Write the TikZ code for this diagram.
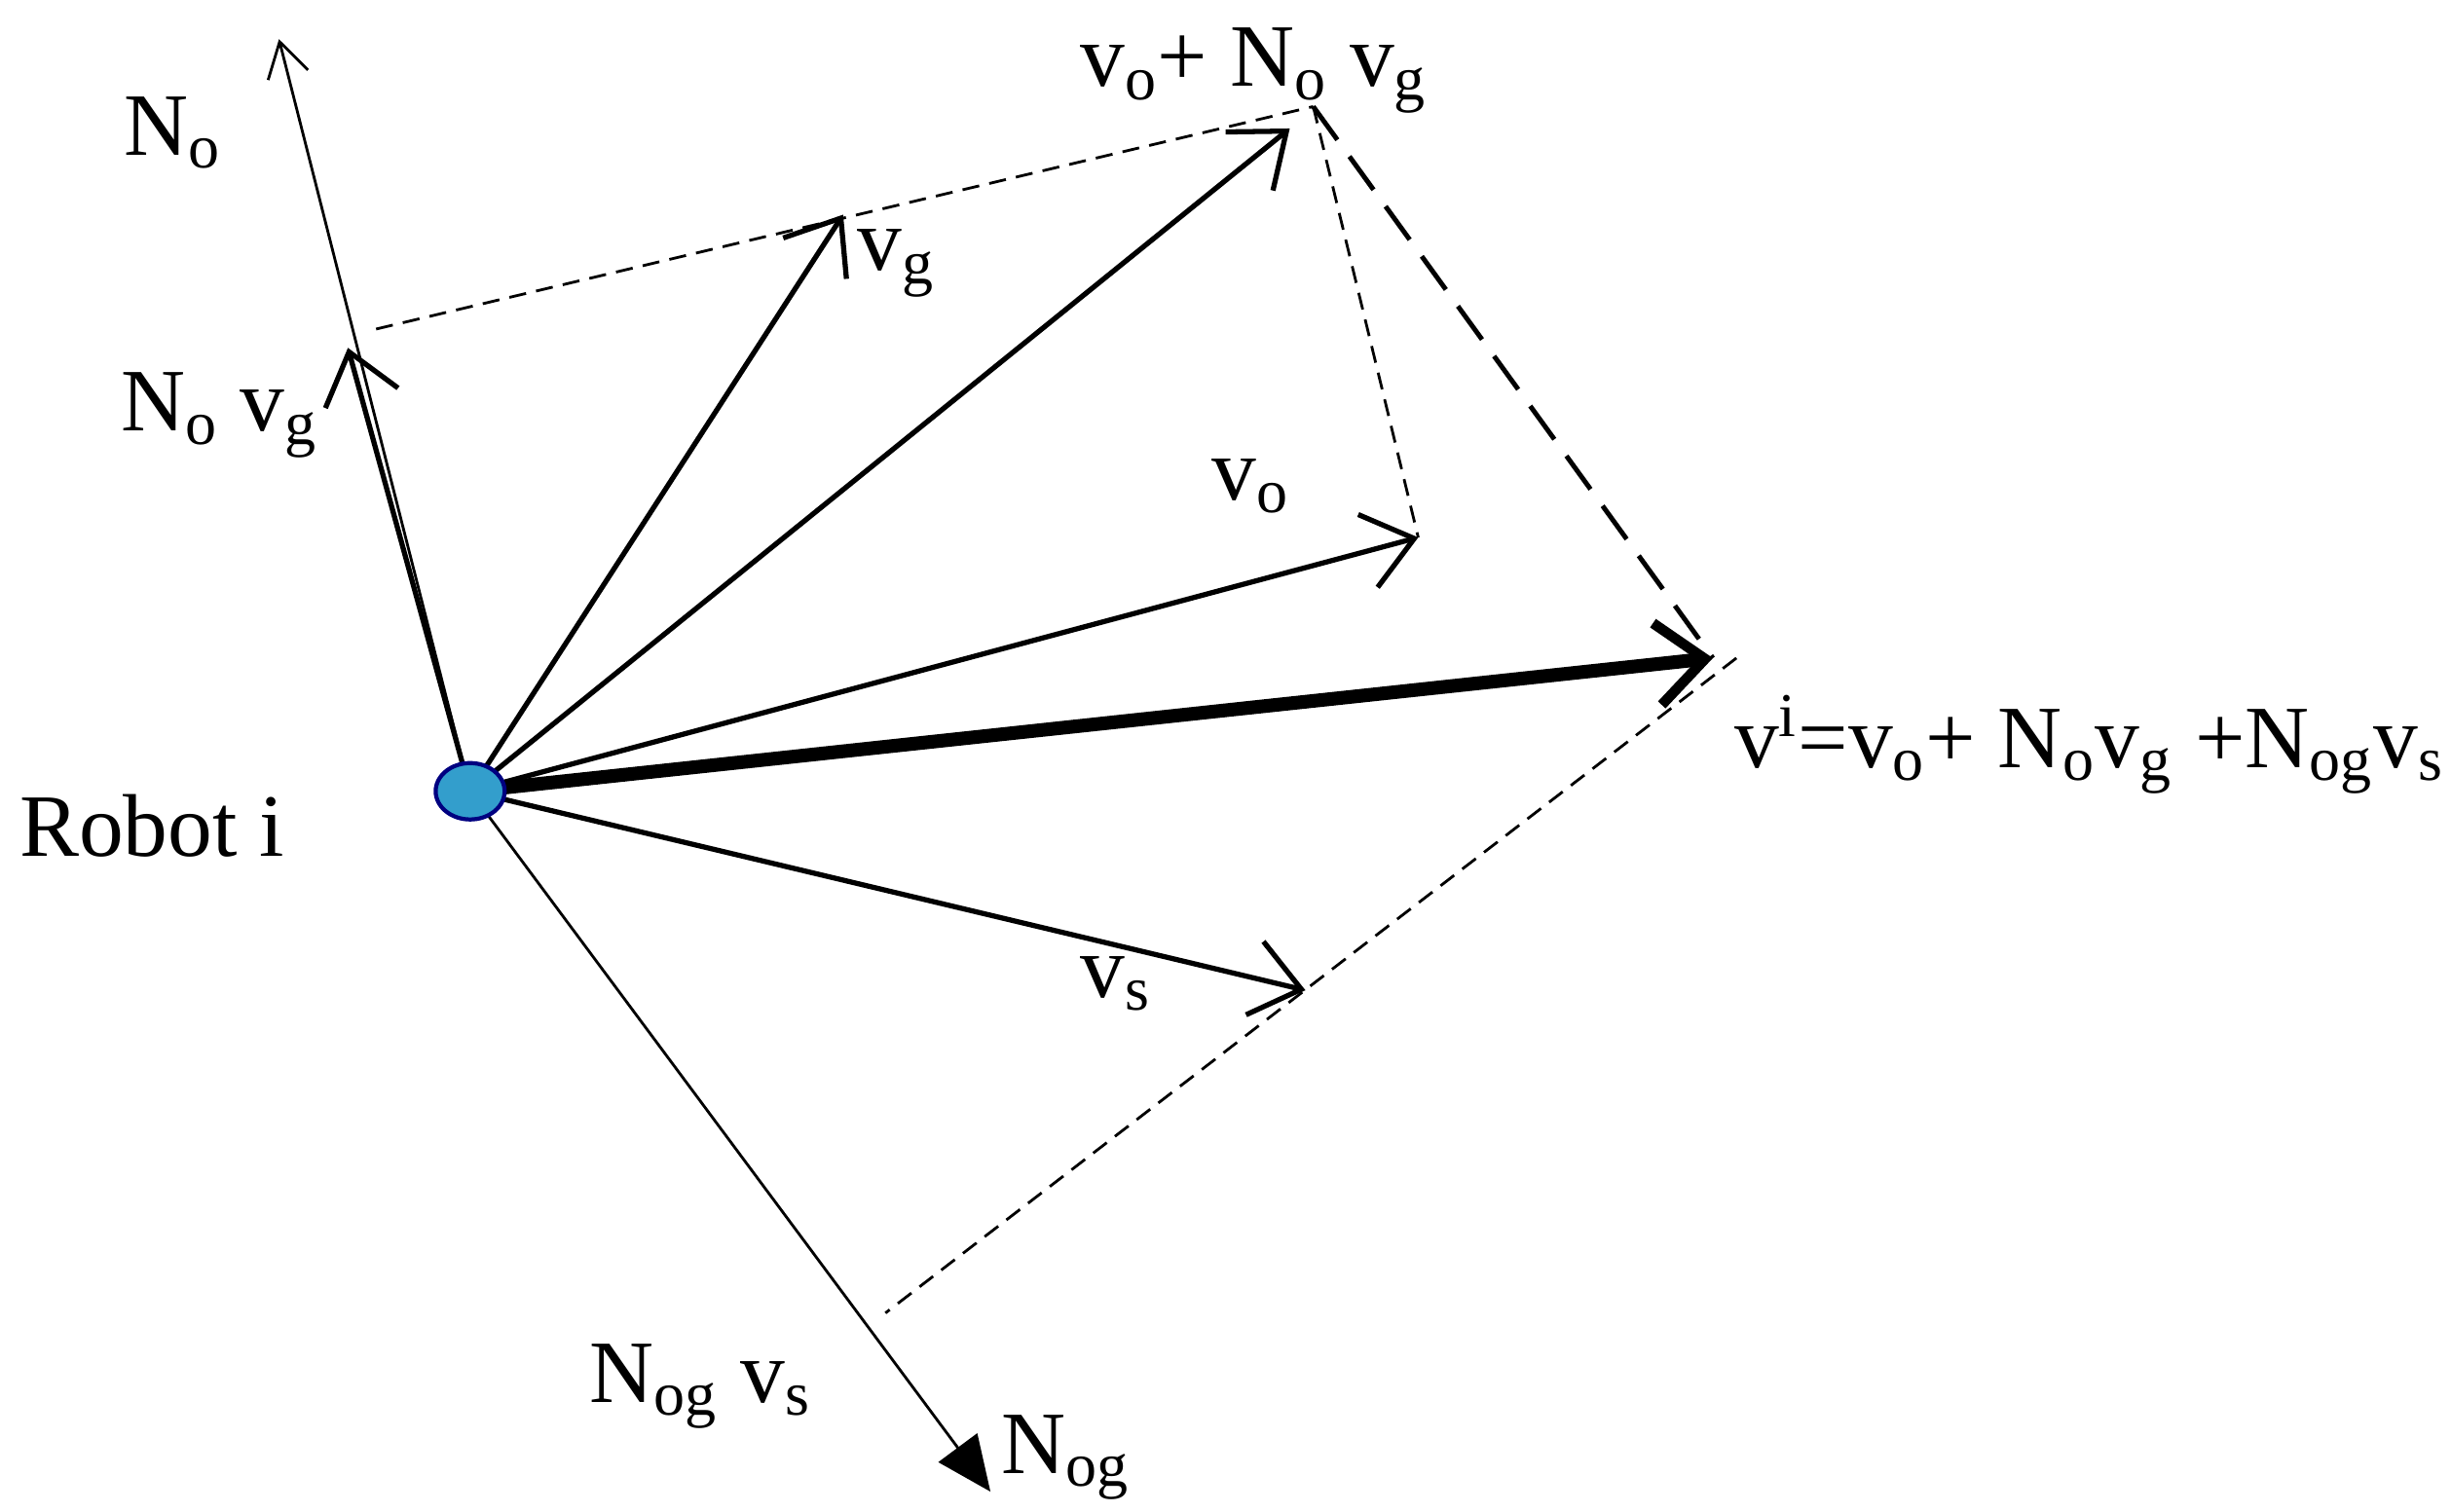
\documentclass[tikz,border=0pt]{standalone}
\usepackage{fontspec}
\setmainfont{Liberation Serif}
\usetikzlibrary{arrows.meta}
\tikzset{
 vec/.style={line width=1.5pt,-{Straight Barb[length=14pt,width=22pt,line width=1.5pt]}},
 axis/.style={line width=0.8pt},
 guide/.style={dashed,line width=0.8pt,dash pattern=on 5pt off 3pt},
 lbl/.style={font=\fontsize{26}{30}\selectfont,inner sep=0pt}
}
\begin{document}
\begin{tikzpicture}[x=0.01609cm,y=-0.01609cm]
\useasboundingbox (0,0) rectangle (1564,965);
 \coordinate (o) at (300,505);
 \coordinate (No) at (178,25);
 \coordinate (Novg) at (222,222);
 \coordinate (vg) at (538,137);
 \coordinate (sum) at (823,82);
 \coordinate (sumc) at (838,68);
 \coordinate (vo) at (905,343);
 \coordinate (vi) at (1093,420);
 \coordinate (vic) at (1108,420);
 \coordinate (vs) at (833,632);
 \coordinate (Nog) at (632,952);
 \coordinate (d1) at (240,210);
 \coordinate (d2) at (565,838);

\draw[guide] (d1)--(sumc);
\draw[guide] (sumc)--(vo);
\draw[guide,line width=1.4pt,dash pattern=on 12pt off 6pt] (sumc)--(vi);
\draw[guide] (vic)--(d2);

\draw[axis,-{Straight Barb[length=10pt,width=12pt,line width=0.8pt]}] (o)--(No);
\draw[axis,-{Triangle[length=16pt,width=14pt]}] (o)--(Nog);
\draw[vec] (o)--(Novg);
\draw[vec] (o)--(vg);
\draw[vec] (o)--(sum);
\draw[vec] (o)--(vo);
\draw[vec] (o)--(vs);
\draw[line width=4pt,-{Straight Barb[length=14pt,width=24pt,line width=3pt]}] (o)--(vi);

\fill[blue!30!cyan!60!gray,draw=blue!50!black,line width=1.2pt] (o) ellipse [x radius=22,y radius=18];

\node[lbl] (lNo) at (110,85) {N\textsubscript{o}};
\node[lbl] (lNovg) at (140,265) {N\textsubscript{o} v\textsubscript{g}};
\node[lbl] (lvg) at (572,168) {v\textsubscript{g}};
\node[lbl] (lsum) at (800,45) {v\textsubscript{o}+ N\textsubscript{o} v\textsubscript{g}};
\node[lbl] (lvo) at (798,310) {v\textsubscript{o}};
\node[lbl,anchor=east] (lvi) at (1560,475) {v\textsuperscript{i}=v\textsubscript{o}+ N\textsubscript{o}v\textsubscript{g} +N\textsubscript{og}v\textsubscript{s}};
\node[lbl] (lrob) at (97,527) {Robot i};
\node[lbl] (lvs) at (712,628) {v\textsubscript{s}};
\node[lbl] (lNogvs) at (447,885) {N\textsubscript{og} v\textsubscript{s}};
\node[lbl] (lNog) at (680,930) {N\textsubscript{og}};
\end{tikzpicture}
\end{document}
